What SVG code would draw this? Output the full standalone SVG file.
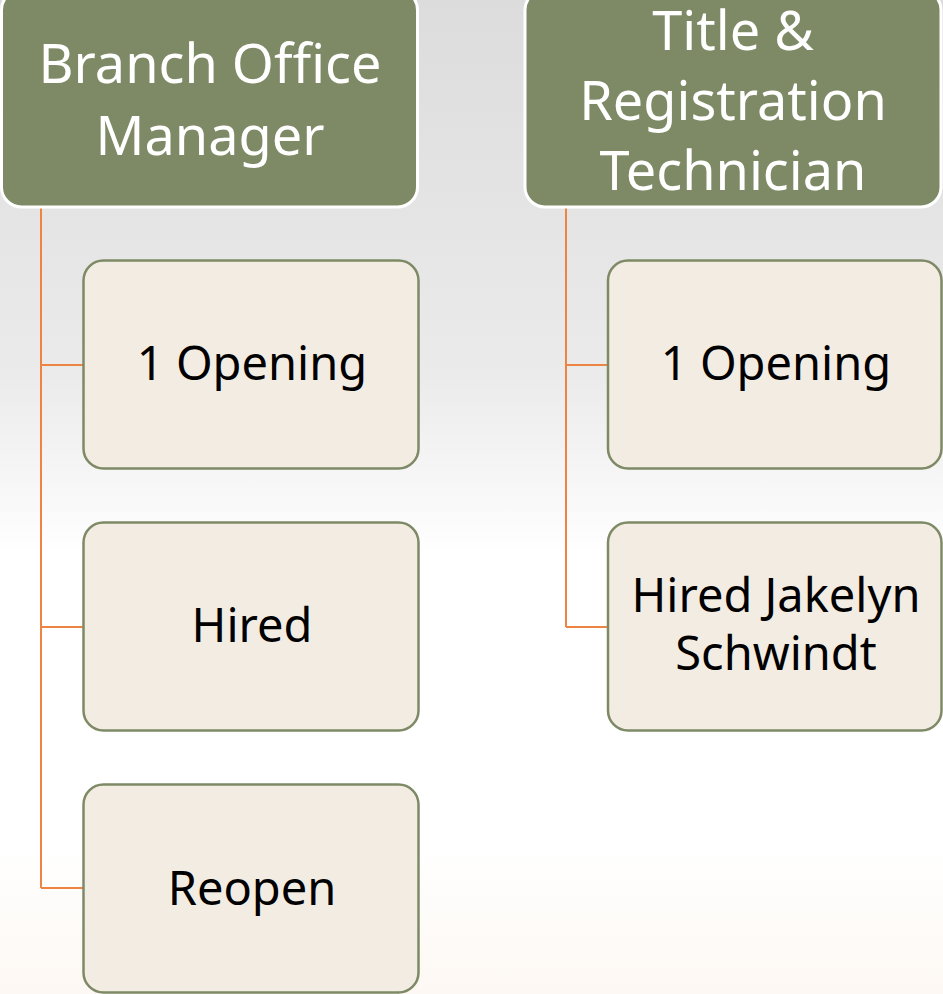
<svg xmlns="http://www.w3.org/2000/svg" width="943" height="994" viewBox="0 0 943 994">
<defs>
<linearGradient id="bg" x1="0" y1="0" x2="0" y2="1">
<stop offset="0" stop-color="#dcdcdc"/>
<stop offset="0.38" stop-color="#ebebeb"/>
<stop offset="0.56" stop-color="#ffffff"/>
<stop offset="0.85" stop-color="#ffffff"/>
<stop offset="1" stop-color="#fdf8f3"/>
</linearGradient>
<style>
.head{fill:#7e8a66;stroke:#ffffff;stroke-width:3}
.child{fill:#f3ece3;stroke:#7e8a66;stroke-width:2.5}
.ht{font-family:"Noto Sans","Open Sans",sans-serif;font-size:54px;fill:#ffffff;text-anchor:middle}
.ct{font-family:"Noto Sans","Open Sans",sans-serif;font-size:47px;fill:#000000;text-anchor:middle}
.conn{fill:none;stroke:#ee8442;stroke-width:2}
</style>
</defs>
<rect x="0" y="0" width="943" height="994" fill="url(#bg)"/>
<g id="connectors">
<path class="conn" d="M41,207 V888 M41,365 H83 M41,627 H83 M41,888 H83"/>
<path class="conn" d="M566,207 V627 M566,365 H608 M566,627 H608"/>
</g>
<g id="branch-office-manager">
<rect class="head" x="1.5" y="-10" width="416" height="217" rx="20"/>
<text class="ht" x="210" y="83">Branch Office</text>
<text class="ht" x="210" y="155">Manager</text>
</g>
<g id="title-registration-technician">
<rect class="head" x="525" y="-10" width="416" height="217" rx="20"/>
<text class="ht" x="733" y="50">Title &amp;</text>
<text class="ht" x="733" y="120">Registration</text>
<text class="ht" x="733" y="190">Technician</text>
</g>
<g id="bom-opening">
<rect class="child" x="83.5" y="260.5" width="335" height="208" rx="20"/>
<text class="ct" x="252" y="380">1 Opening</text>
</g>
<g id="bom-hired">
<rect class="child" x="83.5" y="522.5" width="335" height="208" rx="20"/>
<text class="ct" x="252" y="642">Hired</text>
</g>
<g id="bom-reopen">
<rect class="child" x="83.5" y="784.5" width="335" height="208" rx="20"/>
<text class="ct" x="252" y="905">Reopen</text>
</g>
<g id="trt-opening">
<rect class="child" x="608" y="260.5" width="333.5" height="208" rx="20"/>
<text class="ct" x="776" y="380">1 Opening</text>
</g>
<g id="trt-hired">
<rect class="child" x="608" y="522.5" width="333.5" height="208" rx="20"/>
<text class="ct" x="776" y="612">Hired Jakelyn</text>
<text class="ct" x="776" y="670">Schwindt</text>
</g>
</svg>
